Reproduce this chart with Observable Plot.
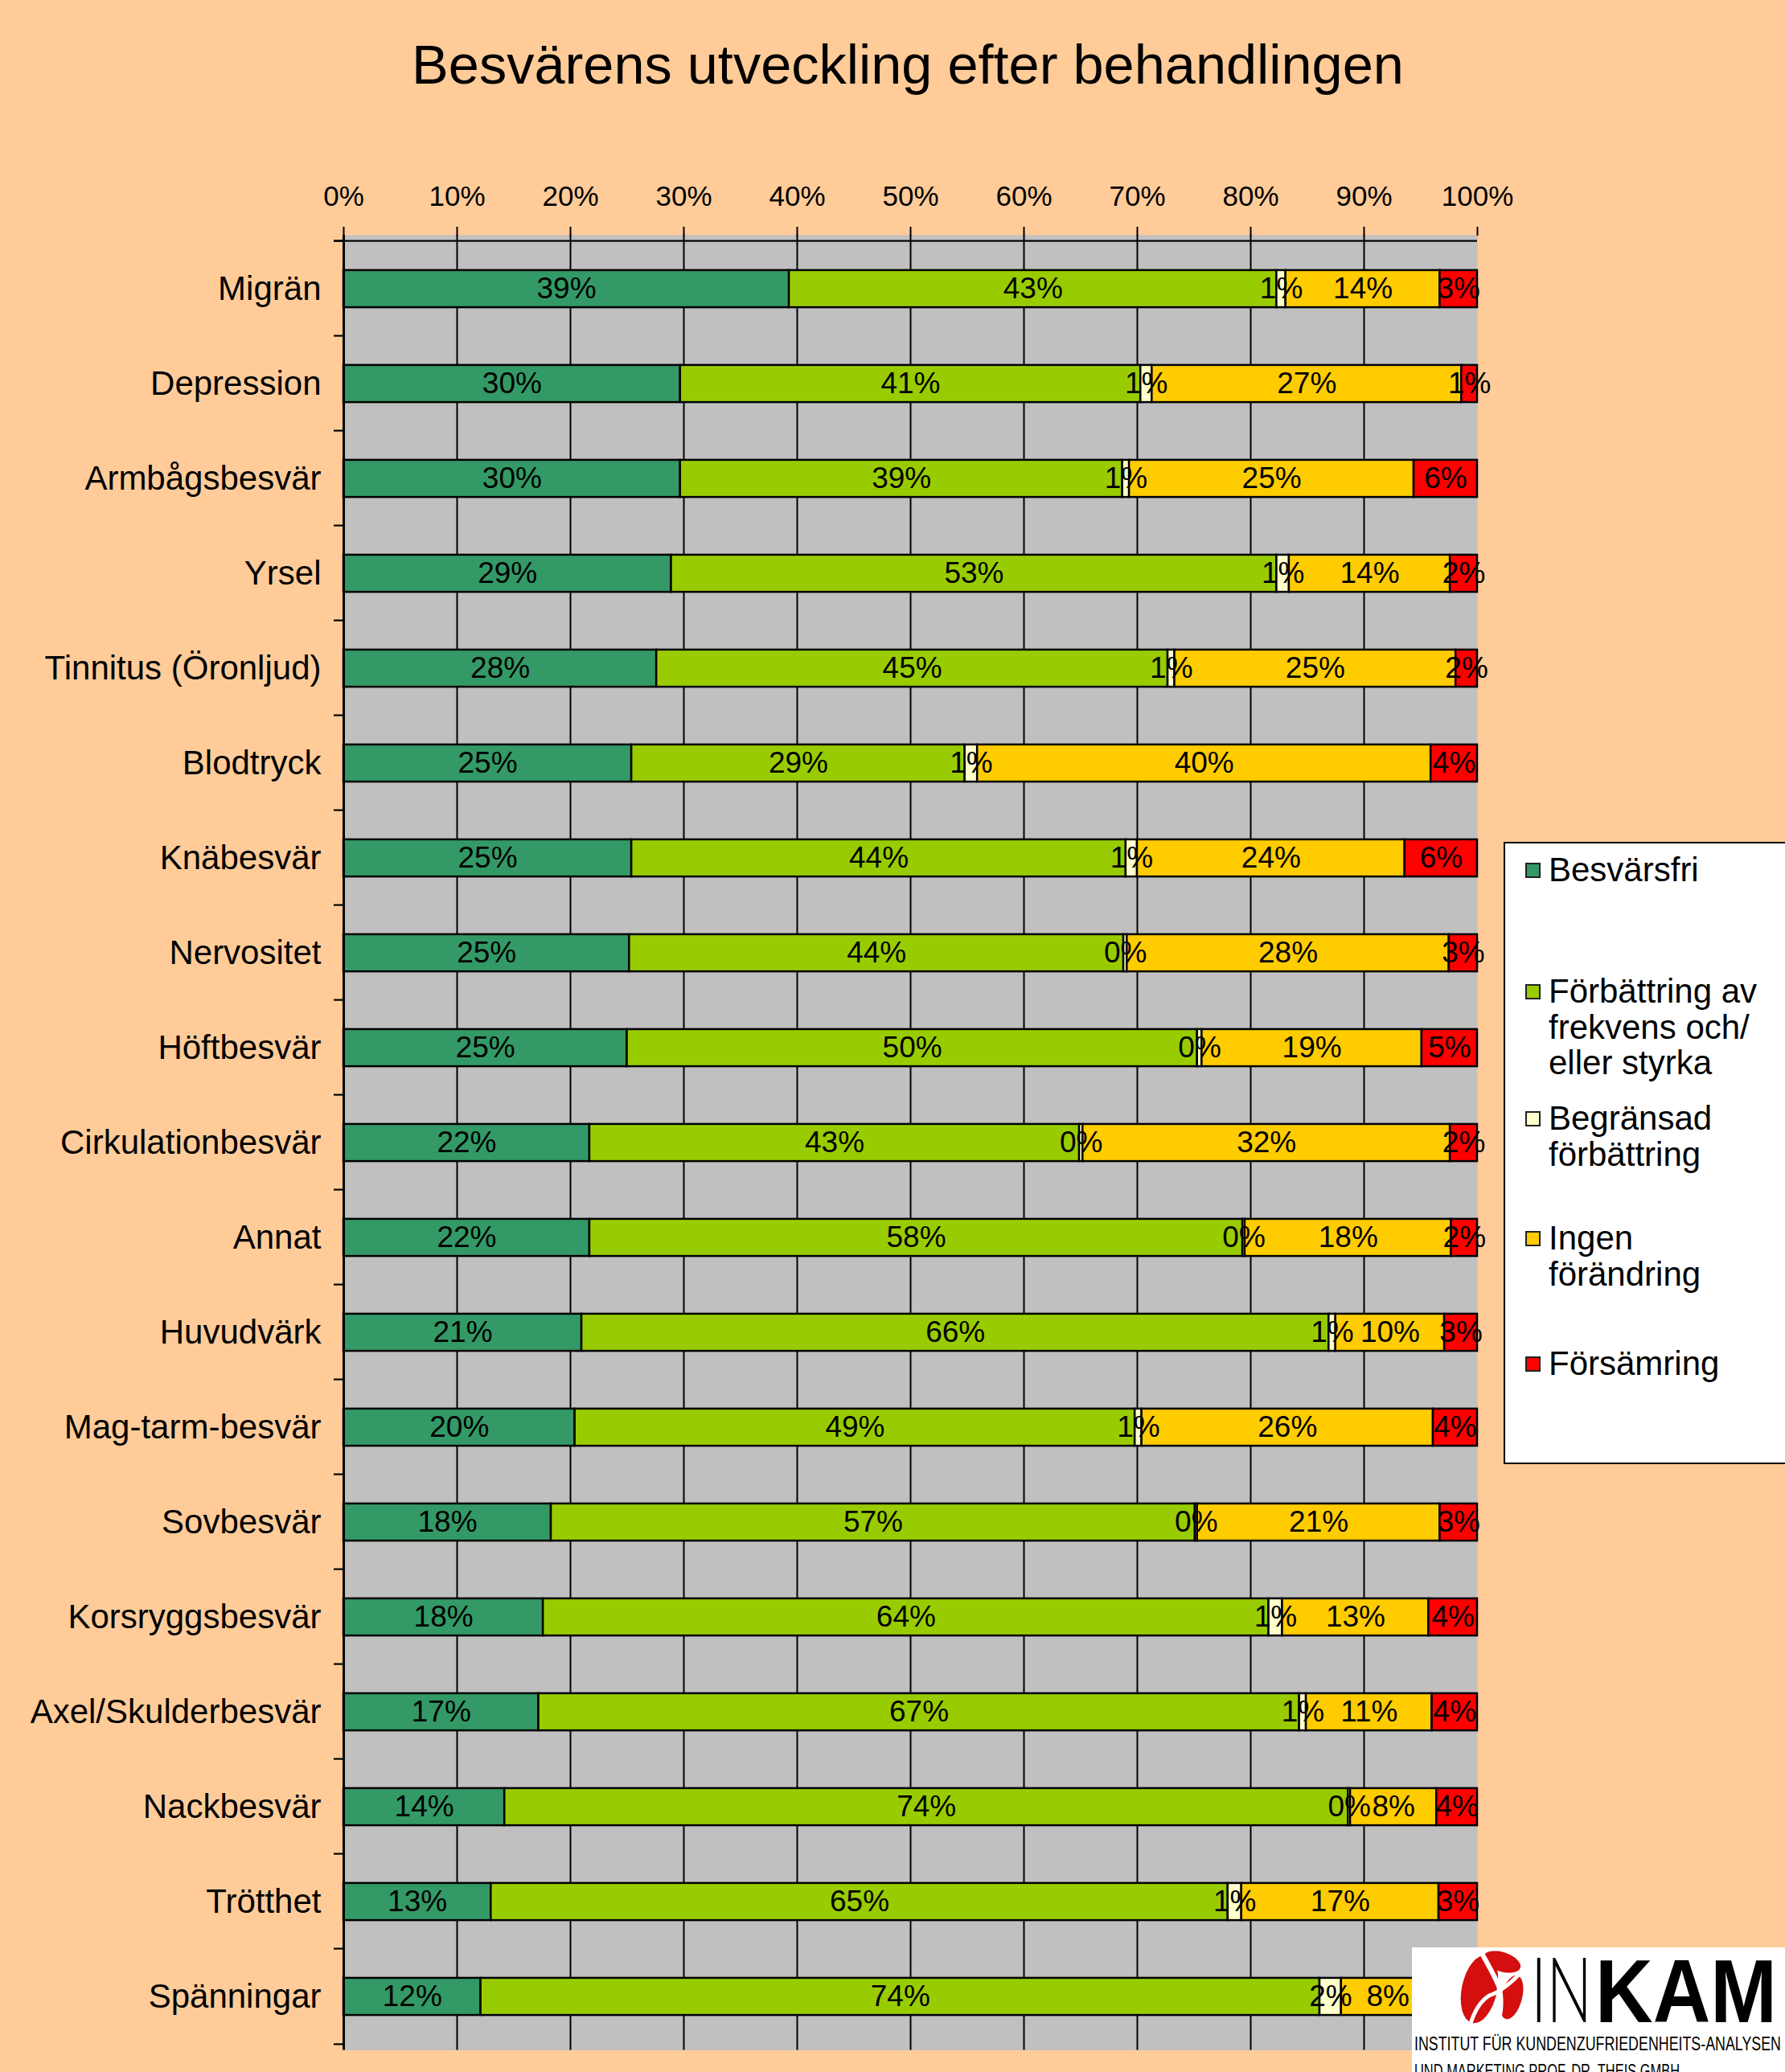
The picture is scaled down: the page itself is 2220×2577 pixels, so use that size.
<!DOCTYPE html>
<html>
<head>
<meta charset="utf-8">
<script src="https://cdn.jsdelivr.net/npm/d3@7"></script>
<script src="https://cdn.jsdelivr.net/npm/@observablehq/plot@0.6"></script>
<style>
html, body { margin: 0; padding: 0; }
body { width: 2220px; height: 2577px; background: #FFCC99; position: relative; overflow: hidden;
       font-family: "Liberation Sans", Arial, sans-serif; color: #000; }
#title { position: absolute; left: 0; top: 47px; width: 2258px; text-align: center;
         font-size: 68.5px; line-height: 68.5px; white-space: nowrap; }
#chart { position: absolute; left: 0; top: 0; }
#legend { position: absolute; left: 1870px; top: 1047px; width: 380px; height: 774px;
          background: #fff; border: 2.5px solid #000; box-sizing: border-box; }
.litem { position: absolute; font-size: 42px; line-height: 44.5px; white-space: nowrap; }
.lsw { position: absolute; width: 19px; height: 19px; box-sizing: border-box; border: 2px solid #222; }
#logo { position: absolute; left: 1756px; top: 2422px; width: 470px; height: 160px; background: #fff; overflow: hidden; }
</style>
</head>
<body>
<div id="title">Besvärens utveckling efter behandlingen</div>
<div id="chart"></div>
<div id="legend"></div>
<div id="logo">
  <svg width="470" height="160" xmlns="http://www.w3.org/2000/svg">
    <g fill="#D50F0F">
      <ellipse cx="84" cy="52" rx="22" ry="43" transform="rotate(12 84 52)"/>
      <ellipse cx="112" cy="18" rx="24" ry="12" transform="rotate(18 112 18)"/>
      <ellipse cx="124" cy="62" rx="13" ry="28" transform="rotate(15 124 62)"/>
    </g>
    <path d="M86 6 Q 100 30 108 48 Q 114 70 106 98" stroke="#fff" stroke-width="6" fill="none"/>
    <path d="M140 26 Q 118 52 96 60 Q 80 70 72 98" stroke="#fff" stroke-width="5" fill="none"/>
    <text x="148" y="93" font-size="112" font-family="Lato, 'Liberation Sans', Arial, sans-serif" font-weight="300" textLength="76" lengthAdjust="spacingAndGlyphs">IN</text>
    <text x="228" y="93" font-size="112" font-family="'Liberation Sans', Arial, sans-serif" font-weight="bold" textLength="226" lengthAdjust="spacingAndGlyphs">KAM</text>
    <text x="3" y="128" font-size="24" font-family="'Liberation Sans', Arial, sans-serif" textLength="456" lengthAdjust="spacingAndGlyphs">INSTITUT FÜR KUNDENZUFRIEDENHEITS-ANALYSEN</text>
    <text x="3" y="162" font-size="24" font-family="'Liberation Sans', Arial, sans-serif" textLength="330" lengthAdjust="spacingAndGlyphs">UND MARKETING PROF. DR. THEIS GMBH</text>
  </svg>
</div>
<script>
// ---- Data ----
const categories = ["Migrän", "Depression", "Armbågsbesvär", "Yrsel", "Tinnitus (Öronljud)", "Blodtryck",
  "Knäbesvär", "Nervositet", "Höftbesvär", "Cirkulationbesvär", "Annat", "Huvudvärk",
  "Mag-tarm-besvär", "Sovbesvär", "Korsryggsbesvär", "Axel/Skulderbesvär", "Nackbesvär", "Trötthet", "Spänningar"];

const series = ["Besvärsfri", "Förbättring av frekvens och/eller styrka", "Begränsad förbättring",
  "Ingen förändring", "Försämring"];
const legendLines = [["Besvärsfri"], ["Förbättring av", "frekvens och/", "eller styrka"],
  ["Begränsad", "förbättring"], ["Ingen", "förändring"], ["Försämring"]];
const colors = ["#339966", "#99CC00", "#FFFFCC", "#FFCC00", "#FF0000"];

const besvarsfri  = [39.3, 29.7, 29.7, 28.9, 27.6, 25.4, 25.4, 25.2, 25.0, 21.7, 21.7, 21.0, 20.4, 18.3, 17.6, 17.2, 14.2, 13.0, 12.1];
const forbattring = [43.0, 40.6, 39.0, 53.4, 45.1, 29.4, 43.6, 43.6, 50.3, 43.2, 57.6, 65.9, 49.4, 56.8, 64.0, 67.1, 74.4, 65.0, 74.0];
const begransad   = [0.8, 1.0, 0.6, 1.1, 0.6, 1.1, 1.0, 0.3, 0.4, 0.3, 0.2, 0.6, 0.6, 0.2, 1.2, 0.6, 0.2, 1.2, 1.9];
const ingen       = [13.6, 27.3, 25.1, 14.2, 24.8, 40.0, 23.6, 28.4, 19.4, 32.4, 18.2, 9.6, 25.7, 21.4, 12.9, 11.1, 7.6, 17.4, 8.2];
const forsamring  = [3.3, 1.4, 5.6, 2.4, 1.9, 4.1, 6.4, 2.5, 4.9, 2.4, 2.3, 2.9, 3.9, 3.3, 4.3, 4.0, 3.6, 3.4, 3.8];

const xTicks = [0, 10, 20, 30, 40, 50, 60, 70, 80, 90, 100];

// ---- Table for Plot ----
const seriesValues = [besvarsfri, forbattring, begransad, ingen, forsamring];
const rows = [];
categories.forEach((c, i) => {
  series.forEach((s, j) => rows.push({category: c, series: s, value: seriesValues[j][i]}));
});

const W = 2220, H = 2577, mt = 292, mb = 27.5, ml = 427, mr = 383;
const step = (H - mt - mb) / categories.length;
const barInset = (step - 47) / 2;

const chart = Plot.plot({
  width: W, height: H,
  marginTop: mt, marginBottom: mb, marginLeft: ml, marginRight: mr,
  style: {background: "transparent", fontFamily: "'Liberation Sans', Arial, sans-serif", color: "black", overflow: "visible"},
  x: {domain: [0, 100]},
  y: {domain: categories, padding: 0},
  color: {domain: series, range: colors},
  marks: [
    Plot.frame({fill: "#C0C0C0", stroke: "none"}),
    Plot.ruleX(xTicks.slice(1, -1), {stroke: "black", strokeWidth: 2}),
    Plot.barX(rows, {x: "value", y: "category", fill: "series", order: series,
      stroke: "black", strokeWidth: 2.5, insetTop: barInset, insetBottom: barInset}),
    Plot.text(rows, Plot.stackX({x: "value", y: "category", z: "series", order: series,
      text: d => Math.round(d.value) + "%", fontSize: 37, fill: "black"})),
    Plot.ruleX([0], {stroke: "black", strokeWidth: 3}),
    // top axis line
    Plot.barX([categories[0]], {y: d => d, x1: -0.85, x2: 100, insetTop: -1.5, insetBottom: step - 1.5, fill: "black"}),
    // category boundary ticks
    Plot.barX(categories, {y: d => d, x1: -0.85, x2: 0, insetTop: -1.5, insetBottom: step - 1.5, fill: "black"}),
    Plot.barX([categories[categories.length - 1]], {y: d => d, x1: -0.85, x2: 0, insetTop: step - 1.5, insetBottom: -1.5, fill: "black"}),
    Plot.axisX({anchor: "top", ticks: xTicks, tickSize: 11, tickPadding: 26, tickFormat: d => d + "%",
      fontSize: 35, strokeWidth: 2, label: null}),
    Plot.axisY({tickSize: 0, tickPadding: 28, fontSize: 42, label: null})
  ]
});
document.getElementById("chart").appendChild(chart);

// ---- Legend ----
const legend = document.getElementById("legend");
const itemTops = [1058, 1209, 1367, 1516, 1672];
legendLines.forEach((lines, i) => {
  const sw = document.createElement("div");
  sw.className = "lsw";
  sw.style.background = colors[i];
  sw.style.left = (1895 - 1870) + "px";
  sw.style.top = (itemTops[i] + 22 - 9.5 - 1047) + "px";
  legend.appendChild(sw);
  const t = document.createElement("div");
  t.className = "litem";
  t.style.left = (1924 - 1870) + "px";
  t.style.top = (itemTops[i] - 1047) + "px";
  t.innerHTML = lines.join("<br>");
  legend.appendChild(t);
});
</script>
</body>
</html>
